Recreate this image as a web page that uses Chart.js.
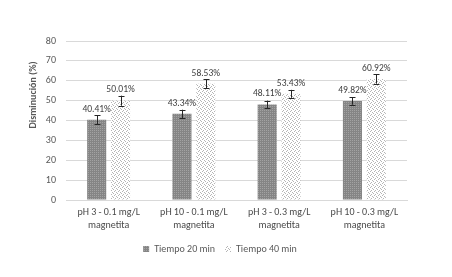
<!DOCTYPE html>
<html>
<head>
<meta charset="utf-8">
<script src="https://cdn.jsdelivr.net/npm/chart.js@4"></script>
<style>
  html, body { margin: 0; padding: 0; background: #fff; }
  #wrap { width: 452px; height: 277px; position: relative; }
</style>
</head>
<body>
<div id="wrap"><canvas id="chart"></canvas></div>
<script>
const categories = [
  ['pH 3 - 0.1 mg/L', 'magnetita'],
  ['pH 10 - 0.1 mg/L', 'magnetita'],
  ['pH 3 - 0.3 mg/L', 'magnetita'],
  ['pH 10 - 0.3 mg/L', 'magnetita']
];
const tiempo20     = [40.41, 43.34, 48.11, 49.82];
const tiempo40     = [50.01, 58.53, 53.43, 60.92];
const error20      = [2.3, 2.1, 1.9, 1.9];
const error40      = [2.5, 2.3, 2.0, 2.4];
const seriesNames  = ['Tiempo 20 min', 'Tiempo 40 min'];
const yTicks       = [0, 10, 20, 30, 40, 50, 60, 70, 80];

const FONT = 'Carlito, Lato, sans-serif';
const TXT  = '#595959';

function makePattern(base, dot, cells) {
  const c = document.createElement('canvas');
  c.width = 4; c.height = 4;
  const g = c.getContext('2d');
  g.fillStyle = base;
  g.fillRect(0, 0, 4, 4);
  g.fillStyle = dot;
  cells.forEach(p => g.fillRect(p[0], p[1], 1, 1));
  return g.createPattern(c, 'repeat');
}

const darkPat  = makePattern('#858585', '#a3a3a3', [[0, 0], [2, 2], [2, 0], [0, 2]]);
const lightPat = makePattern('#ffffff', '#b5b5b5', [[0, 0], [1, 1], [3, 2], [2, 3]]);

const extras = {
  id: 'extras',
  afterDatasetsDraw(chart) {
    const ctx = chart.ctx;
    const y   = chart.scales.y;
    const errs = [error20, error40];
    ctx.save();
    chart.data.datasets.forEach((ds, di) => {
      const meta = chart.getDatasetMeta(di);
      meta.data.forEach((bar, i) => {
        const v  = ds.data[i];
        const e  = errs[di][i];
        const yt = y.getPixelForValue(v + e);
        const yb = y.getPixelForValue(v - e);
        const cx = Math.round(bar.x) + 0.5;
        ctx.strokeStyle = '#262626';
        ctx.lineWidth = 1;
        ctx.beginPath();
        ctx.moveTo(cx, yt);
        ctx.lineTo(cx, yb);
        ctx.moveTo(cx - 3, Math.round(yt) + 0.5);
        ctx.lineTo(cx + 3, Math.round(yt) + 0.5);
        ctx.moveTo(cx - 3, Math.round(yb) + 0.5);
        ctx.lineTo(cx + 3, Math.round(yb) + 0.5);
        ctx.stroke();

        ctx.fillStyle = '#404040';
        ctx.font = '9.5px ' + FONT;
        ctx.textAlign = 'center';
        ctx.textBaseline = 'middle';
        ctx.fillText(v.toFixed(2) + '%', bar.x, bar.y - 10.5);
      });
    });

    ctx.translate(33, 95);
    ctx.rotate(-Math.PI / 2);
    ctx.fillStyle = TXT;
    ctx.font = 'bold 10px ' + FONT;
    ctx.textAlign = 'center';
    ctx.textBaseline = 'middle';
    ctx.fillText('Disminución (%)', 0, 0);
    ctx.restore();
  }
};

new Chart(document.getElementById('chart'), {
  type: 'bar',
  data: {
    labels: categories,
    datasets: [
      { label: seriesNames[0], data: tiempo20, backgroundColor: darkPat,
        borderWidth: 0, categoryPercentage: 0.56, barPercentage: 0.8 },
      { label: seriesNames[1], data: tiempo40, backgroundColor: lightPat,
        borderWidth: 0, categoryPercentage: 0.56, barPercentage: 0.8 }
    ]
  },
  options: {
    responsive: true,
    maintainAspectRatio: false,
    animation: false,
    devicePixelRatio: 1,
    layout: { padding: { left: 33, right: 45, top: 41, bottom: 13 } },
    plugins: {
      legend: {
        position: 'bottom',
        labels: {
          boxWidth: 6, boxHeight: 6, padding: 10,
          color: TXT, font: { family: FONT, size: 10 }
        }
      },
      tooltip: { enabled: false }
    },
    scales: {
      x: {
        afterFit: s => { s.height = 34; },
        grid: { display: false, drawTicks: false },
        border: { color: '#d9d9d9' },
        ticks: { color: '#4a4a4a', font: { family: FONT, size: 10, lineHeight: 1.3 }, maxRotation: 0, autoSkip: false, padding: 6 }
      },
      y: {
        min: 0, max: 80,
        afterBuildTicks: s => { s.ticks = yTicks.map(v => ({ value: v })); },
        afterFit: s => { s.width = 33; },
        grid: { color: '#d9d9d9', drawTicks: false },
        border: { display: false },
        ticks: { color: TXT, font: { family: FONT, size: 10 }, padding: 10 }
      }
    }
  },
  plugins: [extras]
});
</script>
</body>
</html>
